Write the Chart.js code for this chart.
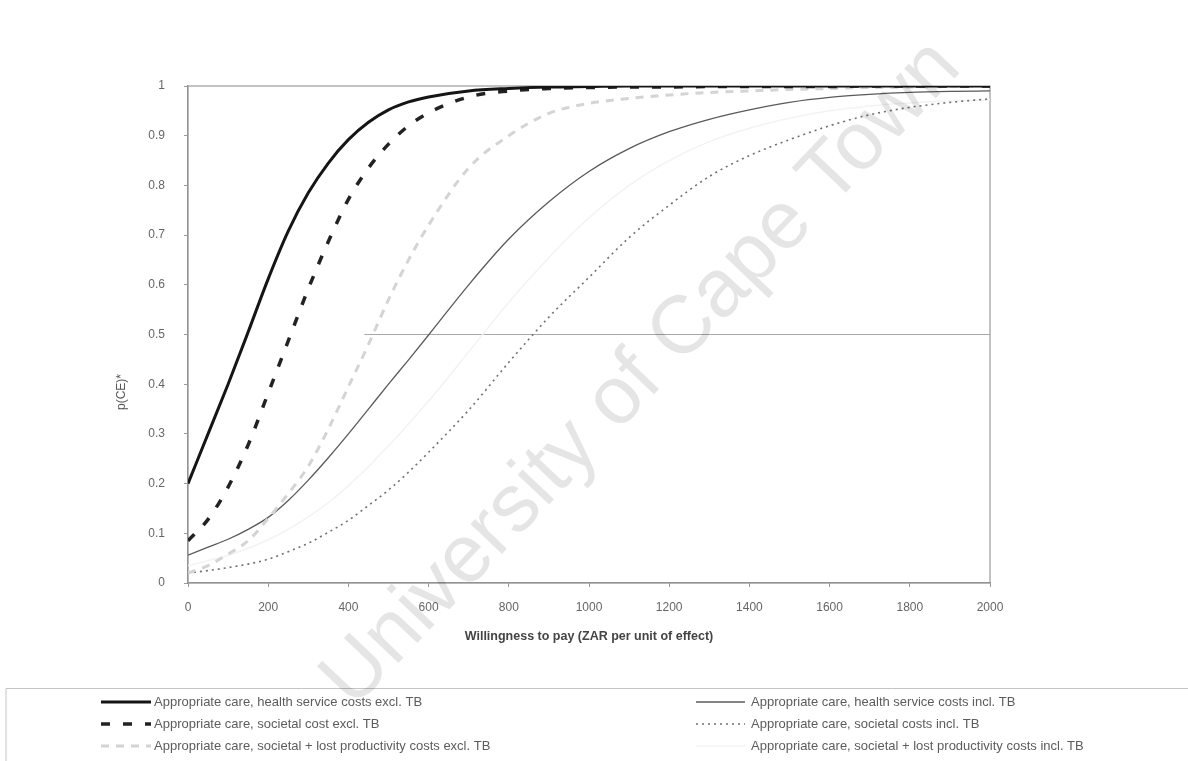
<!DOCTYPE html>
<html>
<head>
<meta charset="utf-8">
<script src="https://cdn.jsdelivr.net/npm/chart.js@4.4.0/dist/chart.umd.min.js"></script>
<style>
  html, body { margin: 0; padding: 0; background: #fff; }
</style>
</head>
<body>
<canvas id="graficoCEAC" width="1188" height="761"></canvas>
<script>
// Eixo X: disposição a pagar (ZAR por unidade de efeito)
const disposicaoPagar = [0, 50, 100, 150, 200, 250, 300, 350, 400, 450, 500, 550, 600,
  700, 800, 900, 1000, 1100, 1200, 1300, 1400, 1500, 1600, 1700, 1800, 1900, 2000];

// Probabilidade de ser custo-efetivo, p(CE), para cada cenário
const servicoSaudeExclTB = [0.2, 0.3, 0.4, 0.505, 0.612, 0.708, 0.785, 0.845, 0.892, 0.927, 0.952, 0.968, 0.978,
  0.99, 0.995, 0.998, 0.999, 1, 1, 1, 1, 1, 1, 1, 1, 1, 1];
const societalExclTB = [0.085, 0.128, 0.193, 0.278, 0.382, 0.487, 0.592, 0.687, 0.772, 0.835, 0.883, 0.92, 0.946,
  0.978, 0.99, 0.995, 0.997, 0.998, 0.998, 0.999, 0.999, 0.999, 0.999, 1, 1, 1, 1];
const produtividadeExclTB = [0.02, 0.035, 0.058, 0.085, 0.13, 0.18, 0.235, 0.31, 0.395, 0.48, 0.57, 0.65, 0.72,
  0.835, 0.9, 0.945, 0.965, 0.975, 0.982, 0.987, 0.99, 0.993, 0.995, 0.997, 0.998, 0.999, 1];
const servicoSaudeInclTB = [0.056, 0.072, 0.088, 0.108, 0.132, 0.166, 0.207, 0.252, 0.3, 0.35, 0.4, 0.449, 0.499,
  0.6, 0.692, 0.767, 0.828, 0.874, 0.908, 0.933, 0.952, 0.967, 0.977, 0.983, 0.987, 0.989, 0.99];
const societalInclTB = [0.02, 0.025, 0.031, 0.038, 0.048, 0.063, 0.08, 0.102, 0.126, 0.156, 0.187, 0.223, 0.263,
  0.348, 0.444, 0.535, 0.615, 0.695, 0.76, 0.818, 0.86, 0.892, 0.92, 0.942, 0.957, 0.967, 0.974];
const produtividadeInclTB = [0.035, 0.045, 0.056, 0.07, 0.087, 0.108, 0.133, 0.162, 0.196, 0.234, 0.276, 0.32, 0.366,
  0.465, 0.565, 0.655, 0.735, 0.8, 0.85, 0.888, 0.915, 0.935, 0.95, 0.96, 0.966, 0.97, 0.972];

// Linha de referência em p(CE) = 0.5
const linhaMetadeX = [440, 2000];
const linhaMetadeY = [0.5, 0.5];

const nomesSeries = [
  'Appropriate care, health service costs excl. TB',
  'Appropriate care, societal cost excl. TB',
  'Appropriate care, societal + lost productivity costs excl. TB',
  'Appropriate care, health service costs incl. TB',
  'Appropriate care, societal costs incl. TB',
  'Appropriate care, societal + lost productivity costs incl. TB'
];

const fonte = "'Liberation Sans', Arial, sans-serif";

// Junta x e y em pontos para o Chart.js
function pontos(xs, ys) {
  let lista = [];
  for (let i = 0; i < xs.length; i++) {
    lista.push({ x: xs[i], y: ys[i] });
  }
  return lista;
}

function serie(label, valores, cor, largura, tracejado) {
  return {
    label: label,
    data: pontos(disposicaoPagar, valores),
    borderColor: cor,
    borderWidth: largura,
    borderDash: tracejado,
    pointRadius: 0,
    fill: false,
    cubicInterpolationMode: 'monotone'
  };
}

const datasets = [
  serie(nomesSeries[0], servicoSaudeExclTB, '#151515', 3, []),
  serie(nomesSeries[1], societalExclTB, '#222222', 3.5, [9, 13]),
  serie(nomesSeries[2], produtividadeExclTB, '#d4d4d4', 3, [8, 7]),
  serie(nomesSeries[3], servicoSaudeInclTB, '#5a5a5a', 1.3, []),
  serie(nomesSeries[4], societalInclTB, '#707070', 1.6, [2, 4]),
  serie(nomesSeries[5], produtividadeInclTB, '#f3f3f3', 1.5, [])
];
datasets.push({
  label: 'p(CE) = 0.5',
  data: pontos(linhaMetadeX, linhaMetadeY),
  borderColor: '#a8a8a8',
  borderWidth: 1.2,
  pointRadius: 0,
  fill: false
});

// Moldura, título do eixo Y, legenda em duas colunas e marca d'água
const extras = {
  id: 'extras',
  beforeDatasetsDraw(chart) {
    const ctx = chart.ctx;
    const a = chart.chartArea;
    ctx.save();
    ctx.strokeStyle = '#9a9a9a';
    ctx.lineWidth = 1.2;
    ctx.strokeRect(a.left, a.top, a.right - a.left, a.bottom - a.top);
    ctx.restore();
  },
  afterDraw(chart) {
    const ctx = chart.ctx;
    ctx.save();

    // título do eixo Y
    ctx.fillStyle = '#555';
    ctx.font = '12px ' + fonte;
    ctx.translate(122, 392);
    ctx.rotate(-Math.PI / 2);
    ctx.textAlign = 'center';
    ctx.textBaseline = 'middle';
    ctx.fillText('p(CE)*', 0, 0);
    ctx.setTransform(1, 0, 0, 1, 0, 0);

    // caixa da legenda
    ctx.strokeStyle = '#c4c4c4';
    ctx.lineWidth = 1;
    ctx.beginPath();
    ctx.moveTo(6, 761);
    ctx.lineTo(6, 688.5);
    ctx.lineTo(1188, 688.5);
    ctx.stroke();

    const colunas = [{ x0: 101, x1: 151, tx: 154 }, { x0: 696, x1: 745, tx: 751 }];
    const linhasY = [702, 724, 746];
    ctx.font = '13px ' + fonte;
    ctx.textAlign = 'left';
    ctx.textBaseline = 'middle';
    for (let i = 0; i < 6; i++) {
      const ds = chart.data.datasets[i];
      const col = colunas[i < 3 ? 0 : 1];
      const y = linhasY[i % 3];
      ctx.strokeStyle = ds.borderColor;
      ctx.lineWidth = ds.borderWidth;
      ctx.setLineDash(ds.borderDash || []);
      ctx.beginPath();
      ctx.moveTo(col.x0, y);
      ctx.lineTo(col.x1, y);
      ctx.stroke();
      ctx.setLineDash([]);
      ctx.fillStyle = '#5c5c5c';
      ctx.fillText(ds.label, col.tx, y);
    }

    // marca d'água
    ctx.translate(642, 374);
    ctx.rotate(-0.81);
    ctx.font = '82px ' + fonte;
    ctx.textAlign = 'center';
    ctx.textBaseline = 'middle';
    ctx.fillStyle = 'rgba(0,0,0,0.1)';
    ctx.fillText('University of Cape Town', 0, 0);
    ctx.restore();
  }
};

const config = {
  type: 'line',
  data: { datasets: datasets },
  options: {
    responsive: false,
    animation: false,
    layout: { padding: { left: 0, top: 86, right: 198, bottom: 108 } },
    plugins: {
      legend: { display: false },
      tooltip: { enabled: false }
    },
    scales: {
      x: {
        type: 'linear',
        min: 0,
        max: 2000,
        afterFit: function (scale) { scale.height = 70; },
        ticks: {
          stepSize: 200,
          padding: 13,
          color: '#666',
          font: { family: fonte, size: 12 },
          maxRotation: 0,
          callback: function (v) { return String(v); }
        },
        grid: { drawOnChartArea: false, drawTicks: true, tickLength: 4, color: '#999' },
        border: { color: '#8a8a8a', width: 1.2 },
        title: {
          display: true,
          text: 'Willingness to pay (ZAR per unit of effect)',
          color: '#444',
          font: { family: fonte, size: 12.5, weight: 'bold' },
          padding: { top: 0, bottom: 9 }
        }
      },
      y: {
        min: 0,
        max: 1,
        afterFit: function (scale) { scale.width = 188; },
        ticks: {
          stepSize: 0.1,
          padding: 19,
          color: '#666',
          font: { family: fonte, size: 12 },
          callback: function (v) { return String(+v.toFixed(1)); }
        },
        grid: { drawOnChartArea: false, drawTicks: true, tickLength: 4, color: '#999' },
        border: { color: '#8a8a8a', width: 1.2 }
      }
    }
  },
  plugins: [extras]
};

let grafico = new Chart(document.getElementById('graficoCEAC'), config);
</script>
</body>
</html>
